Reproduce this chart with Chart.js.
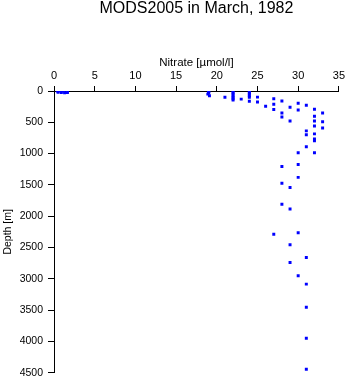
<!DOCTYPE html>
<html>
<head>
<meta charset="utf-8">
<script src="https://cdn.jsdelivr.net/npm/chart.js@4/dist/chart.umd.min.js"></script>
<style>
  body { margin: 0; background: #fff; }
  canvas { display: block; }
</style>
</head>
<body>
<canvas id="profileChart" width="348" height="384"></canvas>
<script>
const chartTitle = "MODS2005 in March, 1982";
const xTitle = "Nitrate [\u00b5mol/l]";
const yTitle = "Depth [m]";

// nitrate (µmol/l) and matching depth (m)
const nitrate = [
  0.4, 0.7, 1.0, 1.2, 0.5, 0.9, 1.3, 1.6, 1.65,
  19, 19, 19, 19, 18.9, 19.1,
  21,
  22, 22, 22, 22, 22, 22, 22,
  23,
  24, 24, 24, 24, 24, 24,
  25, 25,
  26,
  27, 27, 27, 27,
  28, 28, 28, 28, 28, 28,
  29, 29, 29, 29, 29, 29,
  30, 30, 30, 30, 30, 30, 30,
  31, 31, 31, 31, 31, 31, 31, 31, 31,
  32, 32, 32, 32, 32, 32, 32, 32,
  33, 33, 33,
];
const depth = [
  0, 0, 0, 0, 20, 25, 30, 10, 25,
  0, 10, 20, 30, 50, 75,
  100,
  0, 25, 50, 75, 100, 125, 145,
  130,
  0, 25, 50, 75, 100, 165,
  98, 175,
  245,
  125, 210, 295, 2290,
  158, 353, 416, 1205, 1475, 1810,
  258, 480, 1540, 1885, 2455, 2740,
  195, 305, 985, 1175, 1380, 2265, 2950,
  226, 637, 700, 890, 2660, 3085, 3455, 3950, 4445,
  290, 405, 480, 558, 685, 765, 795, 985,
  353, 490, 590,
];

const xMin = 0, xMax = 35, xStep = 5;
const yMin = 0, yMax = 4500, yStep = 500;

document.addEventListener("DOMContentLoaded", () => {
  const font = "'Liberation Sans', Arial, Helvetica, sans-serif";
  const points = nitrate.map((n, i) => ({ x: n, y: depth[i] }));

  new Chart(document.getElementById("profileChart").getContext("2d"), {
    type: "scatter",
    data: {
      datasets: [
        {
          data: points,
          pointStyle: "rect",
          pointRadius: 2.1,
          pointBorderWidth: 0,
          backgroundColor: "#0000ff",
          borderColor: "#0000ff",
        },
      ],
    },
    options: {
      responsive: false,
      animation: false,
      layout: { padding: { left: 0, top: 0, right: 9, bottom: 9 } },
      scales: {
        x: {
          type: "linear",
          position: "top",
          min: xMin,
          max: xMax,
          afterFit: (scale) => { scale.height = 74; },
          ticks: {
            stepSize: xStep,
            autoSkip: false,
            maxRotation: 0,
            padding: 3,
            color: "black",
            font: { family: font, size: 11 },
            callback: (v) => String(v),
          },
          grid: {
            drawOnChartArea: false,
            tickLength: 5,
            tickColor: "black",
          },
          border: { color: "black", width: 1 },
          title: {
            display: true,
            text: xTitle,
            color: "black",
            font: { family: font, size: 11.5 },
            padding: { top: 39, bottom: 0 },
          },
        },
        y: {
          type: "linear",
          reverse: true,
          min: yMin,
          max: yMax,
          afterFit: (scale) => { scale.width = 54; },
          ticks: {
            stepSize: yStep,
            autoSkip: false,
            padding: 5,
            color: "black",
            font: { family: font, size: 10.5 },
            callback: (v) => String(v),
          },
          grid: {
            drawOnChartArea: false,
            tickLength: 6,
            tickColor: "black",
          },
          border: { color: "black", width: 1 },
          title: {
            display: true,
            text: yTitle,
            color: "black",
            font: { family: font, size: 10.5 },
            padding: { top: 2, bottom: 0 },
          },
        },
      },
      plugins: {
        legend: { display: false },
        tooltip: { enabled: false },
        title: {
          display: true,
          text: chartTitle,
          fullSize: false,
          color: "black",
          font: { family: font, size: 16, weight: "normal", lineHeight: 1 },
          padding: { top: 1, bottom: 0 },
        },
      },
    },
  });
});
</script>
</body>
</html>
